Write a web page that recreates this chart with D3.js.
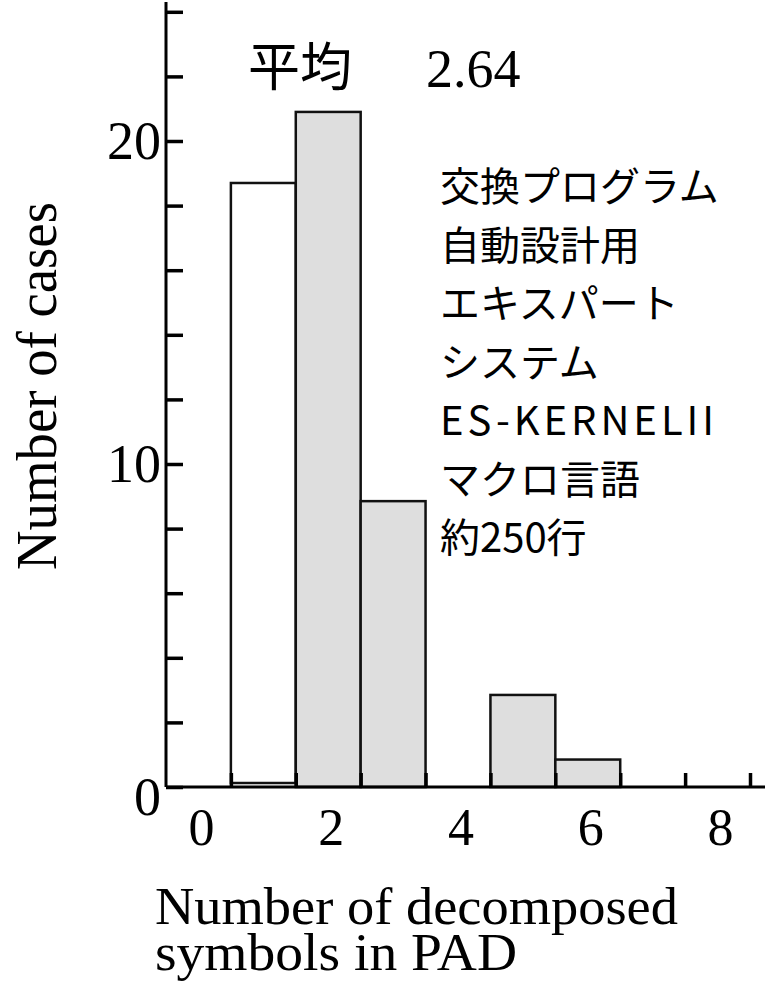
<!DOCTYPE html>
<html>
<head>
<meta charset="utf-8">
<script src="https://cdn.jsdelivr.net/npm/d3@7"></script>
<style>
  html, body { margin: 0; padding: 0; background: #fff; }
  svg { display: block; }
</style>
</head>
<body>
<script>
// Histogram of decomposed symbols per PAD diagram
const symbolCounts = [1, 2, 3, 5, 6];
const caseCounts   = [18.7, 20.9, 8.85, 2.85, 0.85];
const barFills     = ["#ffffff", "#dedede", "#dedede", "#dedede", "#dedede"];
const xTickLabels  = [0, 2, 4, 6, 8];
const xTickMarks   = [0.5, 1.5, 2.5, 3.5, 4.5, 5.5, 6.5, 7.5, 8.5];
const yTickLabels  = [0, 10, 20];
const yTickMarks   = [0, 2, 4, 6, 8, 10, 12, 14, 16, 18, 20, 22, 24];
const meanLabel    = "平均";
const meanValue    = "2.64";
const noteLines    = ["交換プログラム", "自動設計用", "エキスパート", "システム", "ES-KERNELII", "マクロ言語", "約250行"];

const W = 765, H = 986;
const serif = "'Liberation Serif', 'Times New Roman', serif";
const gothic = "'Noto Sans CJK JP', 'Noto Sans', sans-serif";

const svg = d3.select("body").append("svg")
  .attr("width", W).attr("height", H);

const x = d3.scaleLinear().domain([-0.5, 8.5]).range([166, 750]);
const y = d3.scaleLinear().domain([0, 24]).range([787, 11.8]);

// bars: each one spans one unit centred on its value
const bars = symbolCounts.map((s, i) => ({ s, v: caseCounts[i], fill: barFills[i] }));
svg.append("g").selectAll("rect").data(bars).join("rect")
  .attr("x", d => x(d.s - 0.5))
  .attr("width", d => x(d.s + 0.5) - x(d.s - 0.5))
  .attr("y", d => y(d.v))
  .attr("height", (d, i) => y(0) - y(d.v) - (i === 0 ? 4 : 0))
  .attr("fill", d => d.fill)
  .attr("stroke", "#111")
  .attr("stroke-width", 2.5);

// y axis: inward ticks every 2 cases
const yAxis = d3.axisRight(y).tickValues(yTickMarks).tickSize(17).tickFormat("");
const gy = svg.append("g").attr("transform", `translate(${x(-0.5)},0)`).call(yAxis);
gy.select(".domain").attr("d", `M0,${y(24.3)}V${y(0)}`).attr("stroke", "#000").attr("stroke-width", 3);
gy.selectAll(".tick line").attr("stroke", "#000").attr("stroke-width", 3.5);

// y tick labels
svg.append("g").selectAll("text").data(yTickLabels).join("text")
  .attr("x", 161)
  .attr("y", d => y(d) + (d === 0 ? 28 : 18))
  .attr("text-anchor", "end")
  .attr("font-family", serif)
  .attr("font-size", 54)
  .text(d => d);

// x axis: upward ticks on the bar boundaries
const xAxis = d3.axisTop(x).tickValues(xTickMarks).tickSize(14).tickFormat("");
const gx = svg.append("g").attr("transform", `translate(0,${y(0)})`).call(xAxis);
gx.select(".domain").attr("d", `M${x(-0.5)},0H${W}`).attr("stroke", "#000").attr("stroke-width", 3);
gx.selectAll(".tick line").attr("stroke", "#000").attr("stroke-width", 3.5);

// x tick labels
svg.append("g").selectAll("text").data(xTickLabels).join("text")
  .attr("x", d => x(d) + 3)
  .attr("y", 845)
  .attr("text-anchor", "middle")
  .attr("font-family", serif)
  .attr("font-size", 52)
  .text(d => d);

// axis titles
svg.append("text")
  .attr("transform", `translate(56,${(202 + 570) / 2}) rotate(-90)`)
  .attr("text-anchor", "middle")
  .attr("font-family", serif)
  .attr("font-size", 56)
  .attr("textLength", 368)
  .attr("lengthAdjust", "spacingAndGlyphs")
  .text("Number of cases");

svg.append("text")
  .attr("x", 155).attr("y", 924)
  .attr("font-family", serif)
  .attr("font-size", 53)
  .attr("textLength", 523)
  .attr("lengthAdjust", "spacingAndGlyphs")
  .text("Number of decomposed");

svg.append("text")
  .attr("x", 155).attr("y", 970)
  .attr("font-family", serif)
  .attr("font-size", 53)
  .attr("textLength", 362)
  .attr("lengthAdjust", "spacingAndGlyphs")
  .text("symbols in PAD");

// mean annotation
svg.append("text")
  .attr("x", 248).attr("y", 86)
  .attr("font-family", gothic)
  .attr("font-size", 52)
  .text(meanLabel);

svg.append("text")
  .attr("x", 426).attr("y", 87)
  .attr("font-family", serif)
  .attr("font-size", 54)
  .text(meanValue);

// description block
svg.append("g").selectAll("text").data(noteLines).join("text")
  .attr("x", 440)
  .attr("y", (d, i) => 201 + i * 58.5)
  .attr("font-family", gothic)
  .attr("font-size", 40)
  .each(function (d) {
    if (d === "ES-KERNELII") {
      d3.select(this).attr("textLength", 274).attr("lengthAdjust", "spacing");
    }
  })
  .text(d => d);
</script>
</body>
</html>
